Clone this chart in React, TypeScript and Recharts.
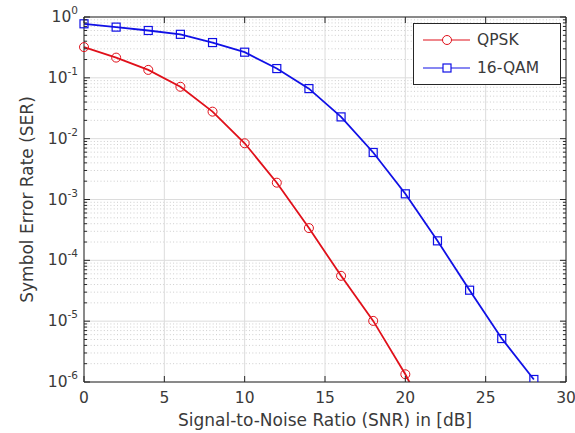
import { LineChart, Line, XAxis, YAxis, CartesianGrid, Legend } from 'recharts';

// SNR grid (dB) and measured symbol error rates
const snrDb = [0, 2, 4, 6, 8, 10, 12, 14, 16, 18, 20, 22, 24, 26, 28];
const qpskSer = [0.32, 0.215, 0.135, 0.0713, 0.0278, 0.0084, 0.00189, 3.39e-4, 5.56e-5, 1.01e-5, 1.34e-6, 1.3e-7];
const qam16Ser = [0.773, 0.682, 0.6, 0.519, 0.38, 0.264, 0.142, 0.0665, 0.0228, 0.00593, 0.00124, 2.09e-4, 3.23e-5, 5.18e-6, 1.1e-6];

const seriesOrder = ['qpsk', 'qam'];
const xTicks = [0, 5, 10, 15, 20, 25, 30];
const decadeTicks = [1e-6, 1e-5, 1e-4, 1e-3, 1e-2, 1e-1, 1];
const minorSteps = [2, 3, 4, 5, 6, 7, 8, 9];
const minorTicks = decadeTicks.slice(0, -1).flatMap((d) => minorSteps.map((m) => m * d));
const allYTicks = [...decadeTicks, ...minorTicks].sort((a, b) => a - b);

const data = snrDb.map((snr, i) => ({ snr, qpsk: qpskSer[i], qam: qam16Ser[i] }));

const FONT = '"DejaVu Sans", sans-serif';
const AXIS = '#262626';
const TEXT = '#3a3a3a';
const RED = '#e0101a';
const BLUE = '#1010e6';

const isDecade = (v: number) => Math.abs(Math.log10(v) - Math.round(Math.log10(v))) < 1e-6;

function LeftTick({ x, y, payload }: any) {
  const v = payload.value;
  const major = isDecade(v);
  return (
    <g>
      <line x1={x} x2={x + (major ? 6 : 3)} y1={y} y2={y} stroke={AXIS} strokeWidth={1} />
      {major && (
        <text x={x - 6} y={y + 5} textAnchor="end" fill={TEXT} fontSize={15.5} fontFamily={FONT}>
          10
          <tspan dy={-8} fontSize={10.5}>
            {Math.round(Math.log10(v))}
          </tspan>
        </text>
      )}
    </g>
  );
}

function RightTick({ x, y, payload }: any) {
  const major = isDecade(payload.value);
  return <line x1={x} x2={x - (major ? 6 : 3)} y1={y} y2={y} stroke={AXIS} strokeWidth={1} />;
}

function BottomTick({ x, y, payload }: any) {
  return (
    <g>
      <line x1={x} x2={x} y1={y} y2={y - 6} stroke={AXIS} strokeWidth={1} />
      <text x={x} y={y + 21} textAnchor="middle" fill={TEXT} fontSize={15.5} fontFamily={FONT}>
        {payload.value}
      </text>
    </g>
  );
}

function TopTick({ x, y }: any) {
  return <line x1={x} x2={x} y1={y} y2={y + 6} stroke={AXIS} strokeWidth={1} />;
}

function CircleDot(props: any) {
  const { cx, cy, index } = props;
  if (cx == null || cy == null) return <g key={`qd-${index}`} />;
  return <circle key={`qd-${index}`} cx={cx} cy={cy} r={4.5} fill="none" stroke={RED} strokeWidth={1} />;
}

function SquareDot(props: any) {
  const { cx, cy, index } = props;
  if (cx == null || cy == null) return <g key={`sd-${index}`} />;
  return <rect key={`sd-${index}`} x={cx - 4} y={cy - 4} width={8} height={8} fill="none" stroke={BLUE} strokeWidth={1.2} />;
}

function LegendBox({ payload }: any) {
  const items = [...(payload || [])].sort(
    (a: any, b: any) => seriesOrder.indexOf(a.dataKey) - seriesOrder.indexOf(b.dataKey),
  );
  return (
    <div
      style={{
        width: 146,
        height: 58,
        border: `1px solid ${AXIS}`,
        background: '#fff',
        fontFamily: FONT,
        fontSize: 15.5,
        color: TEXT,
        paddingTop: 2,
        boxSizing: 'content-box',
      }}
    >
      {items.map((entry: any) => {
        const isQam = entry.dataKey === 'qam';
        const c = isQam ? BLUE : RED;
        return (
          <div key={entry.dataKey} style={{ display: 'flex', alignItems: 'center', height: 28 }}>
            <svg width={48} height={14} style={{ marginLeft: 9 }}>
              <line x1={0} x2={47} y1={7} y2={7} stroke={c} strokeWidth={1.2} />
              {isQam ? (
                <rect x={20} y={3} width={8} height={8} fill="#fff" stroke={c} strokeWidth={1.2} />
              ) : (
                <circle cx={24} cy={7} r={4.5} fill="#fff" stroke={c} strokeWidth={1} />
              )}
            </svg>
            <span style={{ marginLeft: 6 }}>{entry.value}</span>
          </div>
        );
      })}
    </div>
  );
}

export default function App() {
  return (
    <div style={{ position: 'absolute', left: 0, top: 0, background: '#fff' }}>
      <LineChart width={575} height={433} data={data} margin={{ top: 12, right: 0, bottom: 0, left: 0 }}>
        <CartesianGrid
          xAxisId="bottom"
          yAxisId="left"
          horizontalValues={minorTicks}
          vertical={false}
          stroke="#cdcdcd"
          strokeDasharray="1 2.3"
        />
        <CartesianGrid
          xAxisId="bottom"
          yAxisId="left"
          horizontalValues={decadeTicks}
          verticalValues={xTicks}
          stroke="#dcdcdc"
        />
        <XAxis
          xAxisId="bottom"
          dataKey="snr"
          type="number"
          domain={[0, 30]}
          ticks={xTicks}
          interval={0}
          height={51}
          tickSize={0}
          tickMargin={0}
          tickLine={false}
          tick={<BottomTick />}
          axisLine={{ stroke: AXIS }}
          label={{
            value: 'Signal-to-Noise Ratio (SNR) in [dB]',
            position: 'insideBottom',
            offset: 7,
            fill: TEXT,
            fontSize: 17,
            fontFamily: FONT,
          }}
        />
        <XAxis
          xAxisId="top"
          orientation="top"
          dataKey="snr"
          type="number"
          domain={[0, 30]}
          ticks={xTicks}
          interval={0}
          height={5}
          tickSize={0}
          tickMargin={0}
          tickLine={false}
          tick={<TopTick />}
          axisLine={{ stroke: AXIS }}
        />
        <YAxis
          yAxisId="left"
          scale="log"
          domain={[1e-6, 1]}
          allowDataOverflow
          ticks={allYTicks}
          interval={0}
          width={84}
          tickSize={0}
          tickMargin={0}
          tickLine={false}
          tick={<LeftTick />}
          axisLine={{ stroke: AXIS }}
          label={{
            value: 'Symbol Error Rate (SER)',
            angle: -90,
            position: 'insideLeft',
            offset: 27,
            fill: TEXT,
            fontSize: 17,
            fontFamily: FONT,
            style: { textAnchor: 'middle' },
          }}
        />
        <YAxis
          yAxisId="right"
          orientation="right"
          scale="log"
          domain={[1e-6, 1]}
          allowDataOverflow
          ticks={allYTicks}
          interval={0}
          width={9}
          tickSize={0}
          tickMargin={0}
          tickLine={false}
          tick={<RightTick />}
          axisLine={{ stroke: AXIS }}
        />
        <Legend
          layout="vertical"
          align="center"
          verticalAlign="middle"
          content={<LegendBox />}
          wrapperStyle={{ left: 413, top: 23, width: 148, height: 60 }}
        />
        <Line
          xAxisId="bottom"
          yAxisId="left"
          name="QPSK"
          dataKey="qpsk"
          stroke={RED}
          strokeWidth={1.8}
          dot={CircleDot}
          activeDot={false}
          isAnimationActive={false}
        />
        <Line
          xAxisId="bottom"
          yAxisId="left"
          name="16-QAM"
          dataKey="qam"
          stroke={BLUE}
          strokeWidth={1.8}
          dot={SquareDot}
          activeDot={false}
          isAnimationActive={false}
        />
      </LineChart>
    </div>
  );
}
